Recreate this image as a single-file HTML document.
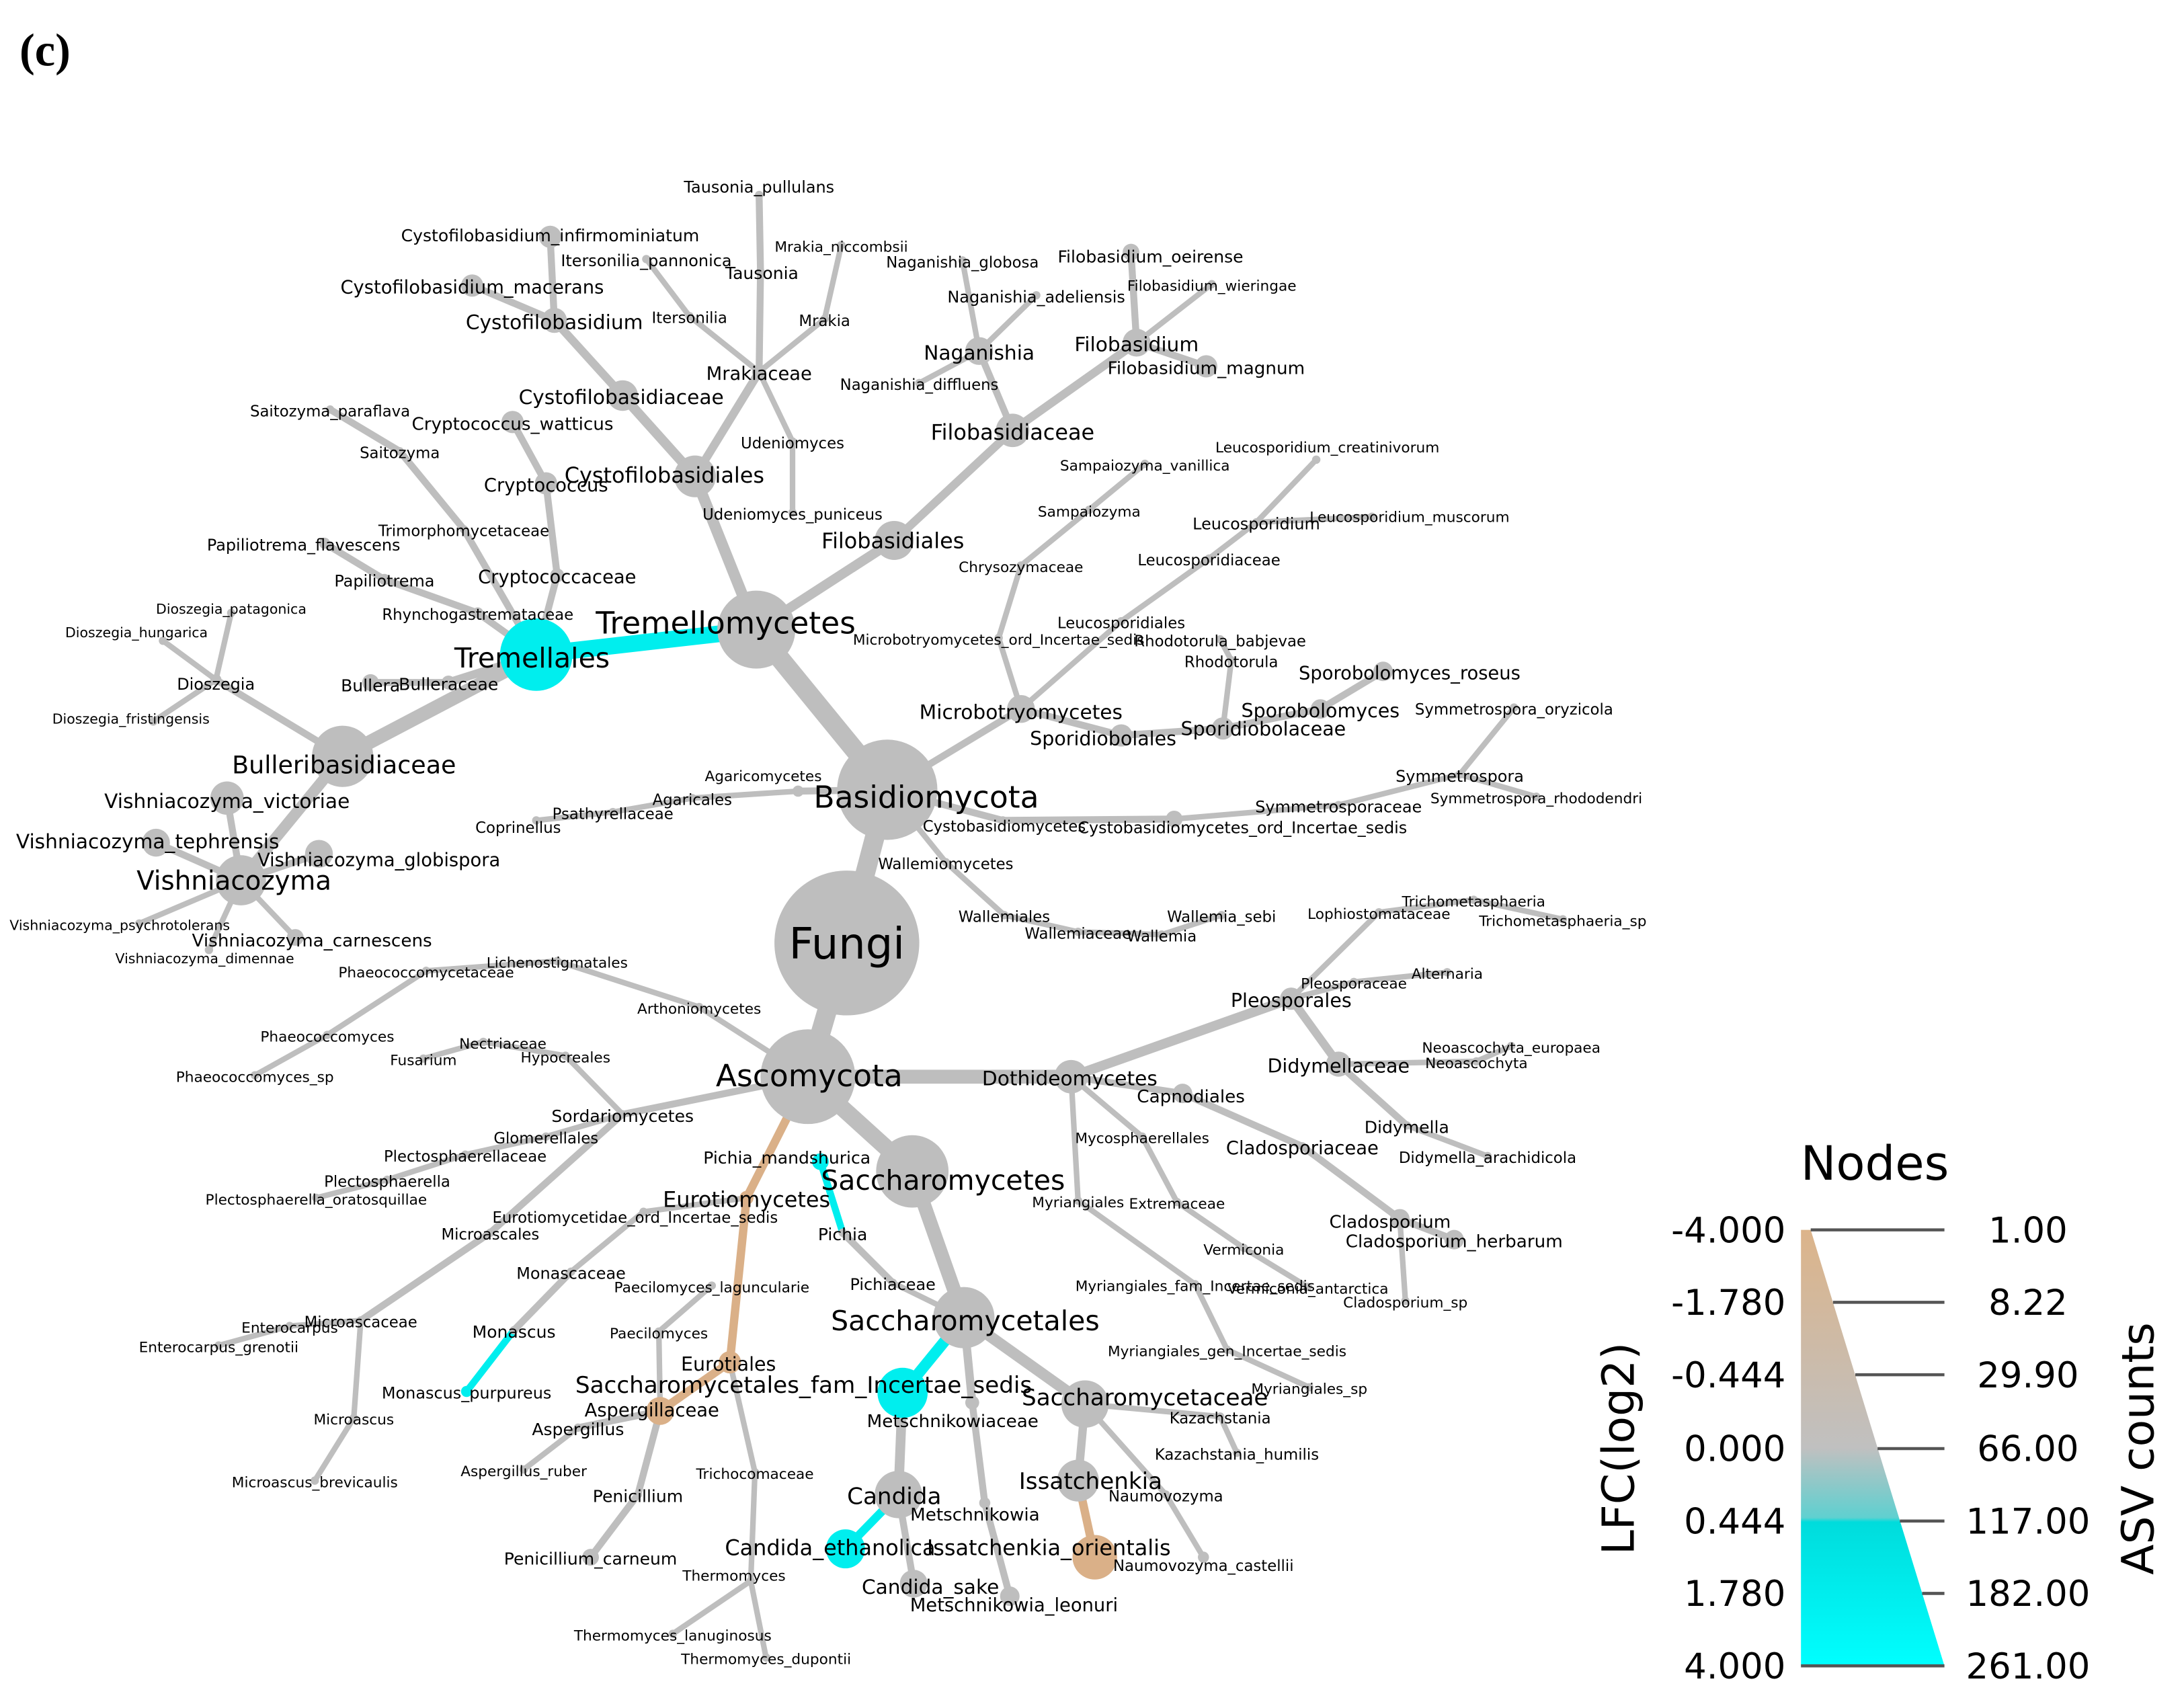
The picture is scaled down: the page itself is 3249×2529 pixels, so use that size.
<!DOCTYPE html>
<html><head><meta charset="utf-8"><style>
html,body{margin:0;padding:0;background:#fff}
svg{display:block}
text{font-family:"DejaVu Sans","Liberation Sans",sans-serif;fill:#000}
</style></head><body>
<svg id="s" xmlns="http://www.w3.org/2000/svg" width="3249" height="2529" viewBox="0 0 1568 1220.5">
<defs>
<linearGradient id="lg" x1="0" y1="0" x2="0" y2="1">
<stop offset="0" stop-color="#dcb48a"/>
<stop offset="0.5" stop-color="#c0c0c0"/>
<stop offset="0.66" stop-color="#5fd0d0"/>
<stop offset="0.67" stop-color="#00dcdc"/>
<stop offset="1" stop-color="#00ffff"/>
</linearGradient>
</defs>
<g id="edges"></g><g id="nodes"></g><g id="labels"></g>
<text x="14" y="47" style="font-family:'Liberation Serif',serif;font-weight:bold;font-size:33px">(c)</text>
<text x="1346" y="847" text-anchor="middle" style="font-size:34px">Nodes</text>
<polygon points="1293,883 1300,883 1396,1196 1293,1196" fill="url(#lg)"/>
<g stroke="#555" stroke-width="2.2">
<line x1="1300" y1="883" x2="1396" y2="883"/>
<line x1="1316" y1="935" x2="1396" y2="935"/>
<line x1="1332" y1="987" x2="1396" y2="987"/>
<line x1="1348" y1="1040" x2="1396" y2="1040"/>
<line x1="1364" y1="1092" x2="1396" y2="1092"/>
<line x1="1380" y1="1144" x2="1396" y2="1144"/>
<line x1="1293" y1="1196" x2="1396" y2="1196"/>
</g>
<g style="font-size:25.5px" text-anchor="end">
<text x="1282" y="892">-4.000</text><text x="1282" y="944">-1.780</text><text x="1282" y="996">-0.444</text>
<text x="1282" y="1049">0.000</text><text x="1282" y="1101">0.444</text><text x="1282" y="1153">1.780</text><text x="1282" y="1205">4.000</text>
</g>
<g style="font-size:25.5px" text-anchor="middle">
<text x="1456" y="892">1.00</text><text x="1456" y="944">8.22</text><text x="1456" y="996">29.90</text>
<text x="1456" y="1049">66.00</text><text x="1456" y="1101">117.00</text><text x="1456" y="1153">182.00</text><text x="1456" y="1205">261.00</text>
</g>
<text transform="translate(1173,1040) rotate(-90)" text-anchor="middle" style="font-size:32px">LFC(log2)</text>
<text transform="translate(1546,1040) rotate(-90)" text-anchor="middle" style="font-size:32px">ASV counts</text>
</svg>
<script>
var G="#bebebe",C="#00eeee",T="#dab088",FS=1.1;
var D=[
["Fungi",null,608,677,52,G,28,0],
["Basidiomycota","Fungi",637,567,36,G,20,14,665,572],
["Ascomycota","Fungi",580,773,34,G,20,14,581,772],
["Tremellomycetes","Basidiomycota",543,452,28,G,20,14,521,447],
["Tremellales","Tremellomycetes",385,470,26,C,18,12,382,472],
["Bulleribasidiaceae","Tremellales",246,543,22,G,16,10,247,549],
["Vishniacozyma","Bulleribasidiaceae",173,632,18,G,17,8,168,632],
["Vishniacozyma_victoriae","Vishniacozyma",163,573,12,G,13,5,163,575],
["Vishniacozyma_tephrensis","Vishniacozyma",112,605,10,G,13,5,106,604],
["Vishniacozyma_globispora","Vishniacozyma",229,613,10,G,12,5,272,617],
["Vishniacozyma_carnescens","Vishniacozyma",212,673,6,G,11.5,4,224,675],
["Vishniacozyma_psychrotolerans","Vishniacozyma",100,663,3,G,9,4,86,664],
["Vishniacozyma_dimennae","Vishniacozyma",150,682,3,G,9,4,147,688],
["Dioszegia","Bulleribasidiaceae",155,488,4,G,10.5,5,155,491],
["Dioszegia_patagonica","Dioszegia",166,440,3,G,9,4,166,437],
["Dioszegia_hungarica","Dioszegia",117,460,3,G,9,4,98,454],
["Dioszegia_fristingensis","Dioszegia",110,518,3,G,9,4,94,516],
["Bulleraceae","Tremellales",322,490,5,G,11,6,322,491],
["Bullera","Bulleraceae",266,490,6,G,11,5,266,492],
["Rhynchogastremataceae","Tremellales",343,440,4,G,10,5,343,441],
["Papiliotrema","Rhynchogastremataceae",276,416,4,G,10.5,5,276,417],
["Papiliotrema_flavescens","Papiliotrema",233,390,4,G,10.5,5,218,391],
["Trimorphomycetaceae","Tremellales",333,380,3,G,10,5,333,381],
["Saitozyma","Trimorphomycetaceae",287,324,3,G,10,5,287,325],
["Saitozyma_paraflava","Saitozyma",237,294,3,G,10,5,237,295],
["Cryptococcaceae","Tremellales",400,413,5,G,12,5,400,414],
["Cryptococcus","Cryptococcaceae",392,347,8,G,12,5,392,348],
["Cryptococcus_watticus","Cryptococcus",368,303,8,G,11.5,5,368,304],
["Cystofilobasidiales","Tremellomycetes",499,342,15,G,14,8,477,341],
["Cystofilobasidiaceae","Cystofilobasidiales",447,284,11,G,13,7,446,285],
["Cystofilobasidium","Cystofilobasidiaceae",398,230,9,G,13,6,398,231],
["Cystofilobasidium_infirmominiatum","Cystofilobasidium",395,170,8,G,11,5,395,169],
["Cystofilobasidium_macerans","Cystofilobasidium",339,205,8,G,12,5,339,206],
["Mrakiaceae","Cystofilobasidiales",545,267,5,G,12,6,545,268],
["Itersonilia","Mrakiaceae",495,227,3,G,10,4,495,228],
["Itersonilia_pannonica","Itersonilia",464,186,3,G,10.5,4,464,187],
["Tausonia","Mrakiaceae",546,195,3,G,11,5,547,196],
["Tausonia_pullulans","Tausonia",545,140,3,G,10.5,5,545,134],
["Mrakia","Mrakiaceae",592,229,3,G,10,4,592,230],
["Mrakia_niccombsii","Mrakia",604,176,3,G,9.5,4,604,177],
["Udeniomyces","Mrakiaceae",569,317,3,G,10,4,569,318],
["Udeniomyces_puniceus","Udeniomyces",569,368,3,G,10,4,569,369],
["Filobasidiales","Tremellomycetes",642,388,14,G,14,7,641,388],
["Filobasidiaceae","Filobasidiales",727,309,12,G,14,6,727,310],
["Naganishia","Filobasidiaceae",703,252,10,G,13,5,703,253],
["Naganishia_globosa","Naganishia",691,187,3,G,10,4,691,188],
["Naganishia_adeliensis","Naganishia",744,212,3,G,10.5,4,744,213],
["Naganishia_diffluens","Naganishia",660,275,3,G,10,4,660,276],
["Filobasidium","Filobasidiaceae",816,246,10,G,13,6,816,247],
["Filobasidium_oeirense","Filobasidium",812,181,6,G,11,5,826,184],
["Filobasidium_wieringae","Filobasidium",870,204,3,G,9.5,4,870,205],
["Filobasidium_magnum","Filobasidium",866,263,8,G,11.5,5,866,264],
["Microbotryomycetes","Basidiomycota",733,509,10,G,13,5,733,511],
["Microbotryomycetes_ord_Incertae_sedis","Microbotryomycetes",717,458,3,G,9.5,4,717,459],
["Chrysozymaceae","Microbotryomycetes_ord_Incertae_sedis",733,406,3,G,9.5,4,733,407],
["Sampaiozyma","Chrysozymaceae",782,366,3,G,9.5,4,782,367],
["Sampaiozyma_vanillica","Sampaiozyma",822,333,3,G,9.5,4,822,334],
["Leucosporidiales","Microbotryomycetes",805,446,3,G,10,4,805,447],
["Leucosporidiaceae","Leucosporidiales",868,401,3,G,10,4,868,402],
["Leucosporidium","Leucosporidiaceae",902,375,3,G,10.5,4,902,376],
["Leucosporidium_creatinivorum","Leucosporidium",945,330,3,G,9.5,4,953,321],
["Leucosporidium_muscorum","Leucosporidium",985,371,3,G,9.5,4,1012,371],
["Sporidiobolales","Microbotryomycetes",805,528,8,G,12.5,5,792,530],
["Sporidiobolaceae","Sporidiobolales",878,523,8,G,12.5,5,907,523],
["Rhodotorula","Sporidiobolaceae",884,474,3,G,10,4,884,475],
["Rhodotorula_babjevae","Rhodotorula",876,459,3,G,10,4,876,460],
["Sporobolomyces","Sporidiobolaceae",948,509,7,G,12.5,5,948,510],
["Sporobolomyces_roseus","Sporobolomyces",993,482,7,G,12,5,1012,483],
["Cystobasidiomycetes","Basidiomycota",720,589,3,G,10,5,721,593],
["Cystobasidiomycetes_ord_Incertae_sedis","Cystobasidiomycetes",843,588,6,G,10.5,5,892,594],
["Symmetrosporaceae","Cystobasidiomycetes_ord_Incertae_sedis",961,578,3,G,10.5,4,961,579],
["Symmetrospora","Symmetrosporaceae",1048,556,3,G,10.5,4,1048,557],
["Symmetrospora_oryzicola","Symmetrospora",1087,508,3,G,10,4,1087,509],
["Symmetrospora_rhododendri","Symmetrospora",1103,572,3,G,9.5,4,1103,573],
["Agaricomycetes","Basidiomycota",573,568,4,G,9.5,5,548,557],
["Agaricales","Agaricomycetes",497,573,3,G,10,4,497,574],
["Psathyrellaceae","Agaricales",440,583,3,G,10,4,440,584],
["Coprinellus","Psathyrellaceae",385,589,3,G,10,4,372,594],
["Wallemiomycetes","Basidiomycota",679,619,3,G,10,4,679,620],
["Wallemiales","Wallemiomycetes",721,657,3,G,10,4,721,658],
["Wallemiaceae","Wallemiales",774,669,3,G,10,4,774,670],
["Wallemia","Wallemiaceae",834,671,3,G,10,4,834,672],
["Wallemia_sebi","Wallemia",877,657,3,G,10,4,877,658],
["Saccharomycetes","Ascomycota",655,841,26,G,18,12,677,847],
["Saccharomycetales","Saccharomycetes",692,946,22,G,18,10,693,948],
["Saccharomycetales_fam_Incertae_sedis","Saccharomycetales",648,1000,18,C,15,8,577,994],
["Metschnikowiaceae","Saccharomycetales",698,1007,5,G,11.5,6,684,1020],
["Candida","Saccharomycetales_fam_Incertae_sedis",645,1073,17,G,15,7,642,1074],
["Candida_ethanolica","Candida",607,1112,14,C,14,6,596,1111],
["Candida_sake","Candida",656,1137,10,G,13,5,668,1139],
["Metschnikowia","Metschnikowiaceae",707,1079,4,G,11.5,5,700,1087],
["Metschnikowia_leonuri","Metschnikowia",725,1146,7,G,12,5,728,1152],
["Saccharomycetaceae","Saccharomycetales",779,1008,17,G,15,8,822,1003],
["Issatchenkia","Saccharomycetaceae",774,1063,15,G,15,6,783,1063],
["Issatchenkia_orientalis","Issatchenkia",786,1118,16,T,14,6,753,1111],
["Naumovozyma","Saccharomycetaceae",837,1073,3,G,10,4,837,1074],
["Naumovozyma_castellii","Naumovozyma",864,1118,4,G,10,4,864,1124],
["Kazachstania","Saccharomycetaceae",876,1017,3,G,10,4,876,1018],
["Kazachstania_humilis","Kazachstania",888,1043,3,G,10,4,888,1044],
["Pichiaceae","Saccharomycetales",641,921,3,G,10.5,4,641,922],
["Pichia","Pichiaceae",605,885,3,G,11,5,605,886],
["Pichia_mandshurica","Pichia",589,834,6,C,11,5,565,831],
["Dothideomycetes","Ascomycota",769,773,12,G,13,10,768,774],
["Pleosporales","Dothideomycetes",927,717,8,G,12.5,7,927,718],
["Lophiostomataceae","Pleosporales",990,655,3,G,9.5,4,990,656],
["Trichometasphaeria","Lophiostomataceae",1058,646,3,G,9.5,4,1058,647],
["Trichometasphaeria_sp","Trichometasphaeria",1122,660,3,G,9.5,4,1122,661],
["Pleosporaceae","Pleosporales",972,705,3,G,9.5,4,972,706],
["Alternaria","Pleosporaceae",1039,698,3,G,9.5,4,1039,699],
["Didymellaceae","Pleosporales",961,764,9,G,12.5,6,961,765],
["Neoascochyta","Didymellaceae",1060,762,3,G,9.5,4,1060,763],
["Neoascochyta_europaea","Neoascochyta",1085,751,3,G,9.5,4,1085,752],
["Didymella","Didymellaceae",1010,808,3,G,11,5,1010,809],
["Didymella_arachidicola","Didymella",1068,830,3,G,10,4,1068,831],
["Capnodiales","Dothideomycetes",849,785,7,G,11.5,5,855,787],
["Cladosporiaceae","Capnodiales",935,823,3,G,12,5,935,824],
["Cladosporium","Cladosporiaceae",1005,875,7,G,11.5,5,998,877],
["Cladosporium_herbarum","Cladosporium",1044,890,7,G,11.5,5,1044,891],
["Cladosporium_sp","Cladosporium",1009,934,3,G,9.5,4,1009,935],
["Mycosphaerellales","Dothideomycetes",820,816,3,G,9.5,4,820,817],
["Extremaceae","Mycosphaerellales",845,863,3,G,9.5,4,845,864],
["Vermiconia","Extremaceae",893,896,3,G,9.5,4,893,897],
["Vermiconia_antarctica","Vermiconia",939,924,3,G,9.5,4,939,925],
["Myriangiales","Dothideomycetes",774,862,3,G,9.5,4,774,863],
["Myriangiales_fam_Incertae_sedis","Myriangiales",858,922,3,G,9.5,4,858,923],
["Myriangiales_gen_Incertae_sedis","Myriangiales_fam_Incertae_sedis",881,969,3,G,9.5,4,881,970],
["Myriangiales_sp","Myriangiales_gen_Incertae_sedis",940,996,3,G,9.5,4,940,997],
["Sordariomycetes","Ascomycota",447,800,3,G,11,5,447,801],
["Glomerellales","Sordariomycetes",392,816,3,G,10,4,392,817],
["Plectosphaerellaceae","Glomerellales",334,829,3,G,10,4,334,830],
["Plectosphaerella","Plectosphaerellaceae",278,847,3,G,10,4,278,848],
["Plectosphaerella_oratosquillae","Plectosphaerella",227,860,3,G,9.5,4,227,861],
["Hypocreales","Sordariomycetes",406,758,3,G,9.5,4,406,759],
["Nectriaceae","Hypocreales",347,748,3,G,9.5,4,361,749],
["Fusarium","Nectriaceae",304,760,3,G,9.5,4,304,761],
["Arthoniomycetes","Ascomycota",502,723,3,G,9.5,4,502,724],
["Lichenostigmatales","Arthoniomycetes",400,690,3,G,9.5,4,400,691],
["Phaeococcomycetaceae","Lichenostigmatales",306,697,3,G,9.5,4,306,698],
["Phaeococcomyces","Phaeococcomycetaceae",235,743,3,G,9.5,4,235,744],
["Phaeococcomyces_sp","Phaeococcomyces",183,772,3,G,9.5,4,183,773],
["Microascales","Sordariomycetes",352,885,3,G,10,5,352,886],
["Microascaceae","Microascales",259,948,3,G,10,5,259,949],
["Enterocarpus","Microascaceae",208,952,3,G,9.5,4,208,953],
["Enterocarpus_grenotii","Enterocarpus",157,966,3,G,9.5,4,157,967],
["Microascus","Microascaceae",254,1018,3,G,9.5,4,254,1019],
["Microascus_brevicaulis","Microascus",226,1063,3,G,9.5,4,226,1064],
["Eurotiomycetes","Ascomycota",536,860,5,T,14,6,536,861],
["Eurotiomycetidae_ord_Incertae_sedis","Eurotiomycetes",462,870,3,G,10,4,456,874],
["Monascaceae","Eurotiomycetidae_ord_Incertae_sedis",410,913,3,G,10.5,4,410,914],
["Monascus","Monascaceae",369,955,3,G,11,5,369,956],
["Monascus_purpureus","Monascus",335,999,4,C,10.5,5,335,1000],
["Eurotiales","Eurotiomycetes",524,978,8,T,12.5,6,523,979],
["Aspergillaceae","Eurotiales",474,1013,10,T,12,6,468,1012],
["Aspergillus","Aspergillaceae",415,1025,3,G,11,5,415,1026],
["Aspergillus_ruber","Aspergillus",376,1055,3,G,9.5,4,376,1056],
["Penicillium","Aspergillaceae",458,1073,3,G,11,5,458,1074],
["Penicillium_carneum","Penicillium",424,1118,6,G,11,5,424,1119],
["Paecilomyces","Aspergillaceae",473,956,3,G,9.5,4,473,957],
["Paecilomyces_laguncularie","Paecilomyces",511,923,3,G,9.5,4,511,924],
["Trichocomaceae","Eurotiales",542,1057,3,G,9.5,4,542,1058],
["Thermomyces","Trichocomaceae",539,1135,3,G,9.5,4,527,1131],
["Thermomyces_lanuginosus","Thermomyces",483,1173,3,G,9.5,4,483,1174],
["Thermomyces_dupontii","Thermomyces",550,1190,3,G,9.5,4,550,1191]
];
var M={};D.forEach(function(d){M[d[0]]=d;});
var NS="http://www.w3.org/2000/svg";
function el(t,a,p,txt){var e=document.createElementNS(NS,t);for(var k in a)e.setAttribute(k,a[k]);if(txt)e.textContent=txt;document.getElementById(p).appendChild(e);}
D.forEach(function(d){if(!d[1])return;var p=M[d[1]];
el("line",{x1:p[2],y1:p[3],x2:d[2],y2:d[3],stroke:d[5],"stroke-width":d[7],"stroke-linecap":"round"},"edges");});
D.forEach(function(d){el("circle",{cx:d[2],cy:d[3],r:d[4],fill:d[5]},"nodes");});
D.forEach(function(d){var lx=d.length>8?d[8]:d[2],ly=d.length>9?d[9]:d[3],f=d[6]*FS;
el("text",{x:lx,y:ly+f*0.36,"text-anchor":"middle",style:"font-size:"+f+"px"},"labels",d[0]);});
</script>
</body></html>
